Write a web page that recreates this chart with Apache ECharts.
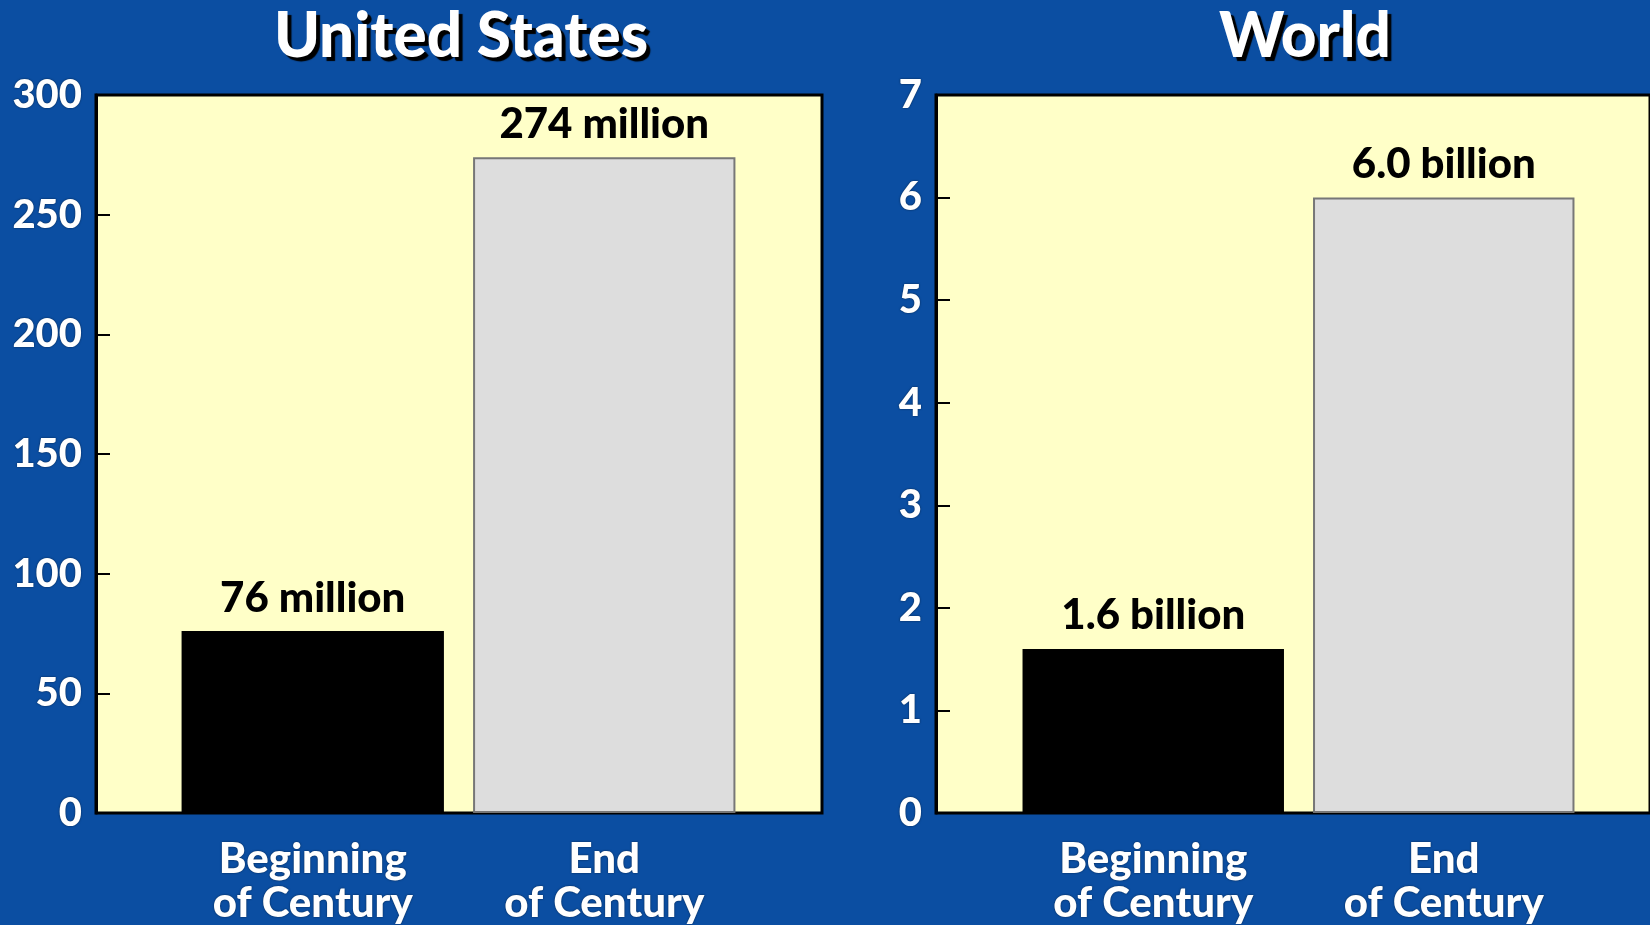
<!DOCTYPE html>
<html>
<head>
<meta charset="utf-8">
<script src="https://cdn.jsdelivr.net/npm/echarts@6/dist/echarts.min.js"></script>
<style>
html,body{margin:0;padding:0;background:#0b4ea2;}
#main{width:1650px;height:925px;}
</style>
</head>
<body>
<div id="main"></div>
<script>
// data
var categories = ['Beginning\nof Century', 'End\nof Century'];
var usValues = [76, 274];
var usLabels = ['76 million', '274 million'];
var worldValues = [1.6, 6.0];
var worldLabels = ['1.6 billion', '6.0 billion'];
var panelTitles = ['United States', 'World'];

var FONT = 'Lato';
var barColors = ['#000000', '#dddddd'];
var barBorders = ['#000000', '#777777'];

function items(vals, labels){
	var out = [];
	for(var i=0;i<vals.length;i++){
		out.push({value:vals[i], itemStyle:{color:barColors[i], borderColor:barBorders[i], borderWidth:i==0?0:2}, label:{formatter:labels[i]}});
	}
	return out;
}

function frameY(grid, max, interval){
	return {
		gridIndex:grid, type:'value', min:0, max:max, interval:interval,
		axisLine:{show:true, lineStyle:{color:'#000', width:3}},
		axisTick:{show:true, inside:true, length:14, lineStyle:{color:'#000', width:2}},
		axisLabel:{color:'#fff', fontFamily:FONT, fontWeight:900, fontSize:40, margin:14,
			textShadowColor:'rgba(0,0,0,0.6)', textShadowBlur:2},
		splitLine:{show:false}
	};
}
function innerY(grid, max){
	return {gridIndex:grid, type:'value', min:0, max:max, show:false, splitLine:{show:false}};
}
function innerX(grid){
	return {
		gridIndex:grid, type:'category', data:categories,
		axisLine:{show:false}, axisTick:{show:false},
		axisLabel:{color:'#fff', fontFamily:FONT, fontWeight:900, fontSize:42, lineHeight:44, margin:24,
			textShadowColor:'rgba(0,0,0,0.6)', textShadowBlur:2}
	};
}
function barSeries(idx, vals, labels){
	return {
		type:'bar', xAxisIndex:idx, yAxisIndex:idx, barWidth:'90%',
		data:items(vals, labels),
		label:{show:true, position:'top', distance:12, color:'#000', fontFamily:FONT, fontWeight:900, fontSize:42}
	};
}

var chart = echarts.init(document.getElementById('main'));
var titleStyle = {color:'#fff', fontFamily:FONT, fontWeight:900, fontSize:62,
	textShadowColor:'#000', textShadowOffsetX:4, textShadowOffsetY:4, textShadowBlur:1};
var option = {
	backgroundColor:'#0b4ea2',
	animation:false,
	title:[
		{text:panelTitles[0], left:456, top:1, textAlign:'center', textStyle:titleStyle},
		{text:panelTitles[1], left:1300, top:1, textAlign:'center', textStyle:titleStyle}
	],
	grid:[
		{left:96, top:95, width:726, height:718, show:true, backgroundColor:'#ffffc8', borderColor:'#000', borderWidth:3},
		{left:167, top:95, width:583, height:718},
		{left:936, top:95, width:800, height:718, show:true, backgroundColor:'#ffffc8', borderColor:'#000', borderWidth:3},
		{left:1008, top:95, width:581, height:718}
	],
	xAxis:[
		{gridIndex:0, type:'value', show:false},
		innerX(1),
		{gridIndex:2, type:'value', show:false},
		innerX(3)
	],
	yAxis:[
		frameY(0, 300, 50),
		innerY(1, 300),
		frameY(2, 7, 1),
		innerY(3, 7)
	],
	series:[
		barSeries(1, usValues, usLabels),
		barSeries(3, worldValues, worldLabels)
	]
};
chart.setOption(option);
</script>
</body>
</html>
